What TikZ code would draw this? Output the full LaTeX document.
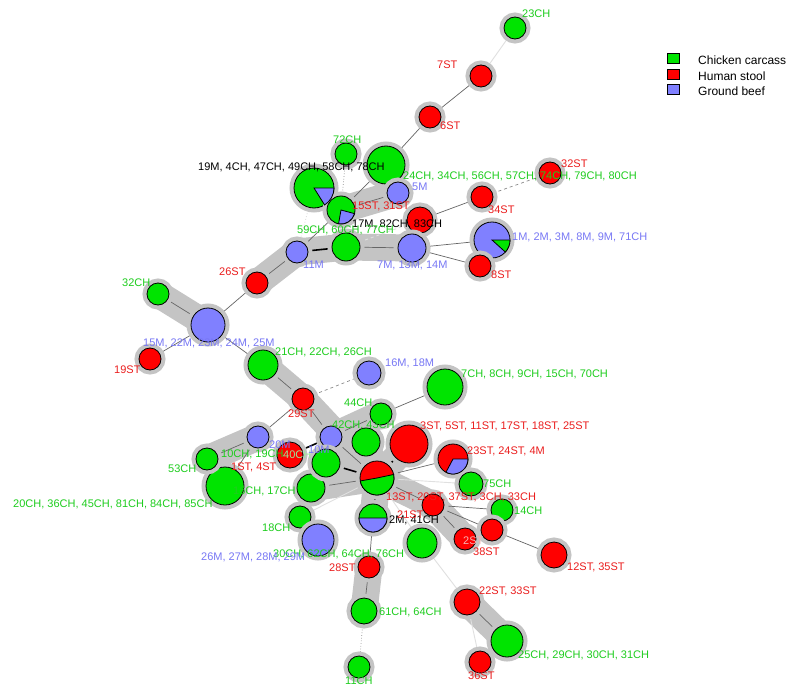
\documentclass[tikz,border=0pt]{standalone}
\usepackage{fontspec}
\setmainfont{Liberation Sans}
\usetikzlibrary{backgrounds}

\definecolor{chgreen}{RGB}{0,228,0}
\definecolor{stred}{RGB}{255,0,0}
\definecolor{beefblue}{RGB}{128,128,255}
\definecolor{halo}{RGB}{196,196,196}
\definecolor{labch}{RGB}{30,205,30}
\definecolor{labst}{RGB}{235,30,30}
\definecolor{labbeef}{RGB}{120,120,245}

\tikzset{
  strain/.style={circle, draw=black, line width=0.8pt, inner sep=0pt,
    minimum size=#1, preaction={draw=halo, line width=9pt}},
  ch/.style={strain=#1, fill=chgreen},
  st/.style={strain=#1, fill=stred},
  beef/.style={strain=#1, fill=beefblue},
  lab/.style={anchor=west, inner sep=0pt, text height=8pt, text depth=0pt,
    font=\fontsize{11}{12}\selectfont},
  band/.style={draw=halo, line width=27pt, line cap=round, line join=round},
  link/.style={draw=black!60, line width=0.7pt},
  near/.style={draw=black, line width=1.6pt},
  faint/.style={draw=black!12, line width=0.9pt},
  loose/.style={draw=black!45, line width=0.7pt, dashed},
}

\newcommand{\piewedge}[5]{%
  \filldraw[fill=#2, draw=black, line width=0.8pt] (#1.center) -- ++(#3:#5pt)
    arc[start angle=#3, end angle=#4, radius=#5pt] -- cycle;}

\begin{document}
\begin{tikzpicture}[x=1pt, y=1pt]
\useasboundingbox (0,0) rectangle (800,-698);

\node[ch=22pt] (n23CH) at (515,-28) {};
\node[st=22pt] (n7ST) at (481,-76) {};
\node[st=22pt] (n6ST) at (430,-117) {};
\node[ch=38pt] (n24CH) at (386,-165) {};
\node[ch=22pt] (n72CH) at (346,-154) {};
\node[ch=40pt] (n19M) at (314,-188) {};
\node[ch=28pt] (n59CH) at (341,-210) {};
\node[beef=22pt] (n5M) at (398,-193) {};
\node[st=26pt] (n15ST) at (420,-220) {};
\node[st=22pt] (n34ST) at (482,-197) {};
\node[st=22pt] (n32ST) at (550,-173) {};
\node[beef=36pt] (n1M) at (492,-240) {};
\node[st=22pt] (n8ST) at (480,-266) {};
\node[beef=28pt] (n7M) at (412,-248) {};
\node[ch=28pt] (n17M) at (346,-247) {};
\node[beef=22pt] (n11M) at (297,-252) {};
\node[st=22pt] (n26ST) at (257,-283) {};
\node[ch=22pt] (n32CH) at (158,-294) {};
\node[beef=34pt] (n15M) at (208,-325) {};
\node[st=22pt] (n19ST) at (150,-359) {};
\node[ch=30pt] (n21CH) at (263,-365) {};
\node[beef=24pt] (n16M) at (369,-373) {};
\node[ch=36pt] (n7CH) at (445,-387) {};
\node[st=22pt] (n29ST) at (303,-399) {};
\node[ch=22pt] (n44CH) at (381,-414) {};
\node[beef=22pt] (n10M) at (331,-437) {};
\node[ch=28pt] (n42CH) at (366,-442) {};
\node[st=38pt] (n3ST) at (409,-444) {};
\node[st=30pt] (n23ST) at (453,-459) {};
\node[st=34pt] (nhub) at (377,-478) {};
\node[ch=24pt] (n75CH) at (471,-484) {};
\node[st=22pt] (n13ST) at (433,-505) {};
\node[ch=22pt] (n14CH) at (502,-510) {};
\node[st=22pt] (n38ST) at (492,-530) {};
\node[st=22pt] (n2ST) at (465,-539) {};
\node[st=26pt] (n12ST) at (554,-555) {};
\node[ch=30pt] (n46CH) at (422,-543) {};
\node[ch=28pt] (n41CH) at (373,-518) {};
\node[ch=22pt] (n18CH) at (300,-517) {};
\node[beef=32pt] (n26M) at (318,-540) {};
\node[ch=28pt] (n16CH) at (311,-488) {};
\node[ch=28pt] (n43CH) at (326,-463) {};
\node[ch=38pt] (n20CH) at (225,-486) {};
\node[beef=22pt] (n20M) at (258,-437) {};
\node[ch=22pt] (n53CH) at (207,-459) {};
\node[st=26pt] (n1ST) at (290,-455) {};
\node[st=22pt] (n28ST) at (369,-567) {};
\node[ch=26pt] (n61CH) at (364,-611) {};
\node[ch=22pt] (n11CH) at (359,-667) {};
\node[st=26pt] (n22ST) at (467,-602) {};
\node[ch=32pt] (n25CH) at (507,-641) {};
\node[st=22pt] (n36ST) at (480,-662) {};

\piewedge{n19M}{beefblue}{-58}{0}{20}
\piewedge{n59CH}{beefblue}{-100}{-15}{14}
\piewedge{n1M}{chgreen}{-42}{0}{18}
\piewedge{n23ST}{beefblue}{-118}{0}{15}
\piewedge{nhub}{chgreen}{190}{372}{17}
\piewedge{n41CH}{beefblue}{180}{360}{14}

\begin{pgfonlayer}{background}
\fill[white] (0,0) rectangle (800,-698);
\draw[band] (n32CH.center) -- (n15M.center);
\draw[band] (n26ST.center) -- (n11M.center) -- (n17M.center) -- (n7M.center);
\draw[band] (n59CH.center) -- (n5M.center);
\draw[band] (n21CH.center) -- (n29ST.center) -- (nhub.center);
\draw[band] (n53CH.center) -- (n20M.center);
\draw[band] (n44CH.center) -- (n10M.center) -- (nhub.center);
\draw[band] (n16CH.center) -- (nhub.center) -- (n43CH.center);
\draw[band] (n42CH.center) -- (nhub.center) -- (n3ST.center);
\draw[band] (nhub.center) -- (n41CH.center);
\draw[band] (nhub.center) -- (n13ST.center) -- (n2ST.center);
\draw[band] (n28ST.center) -- (n61CH.center);
\draw[band] (n22ST.center) -- (n25CH.center);

\draw[faint] (n23CH) -- (n7ST);
\draw[link] (n7ST) -- (n6ST);
\draw[link] (n6ST) -- (n24CH);
\draw[link] (n24CH) -- (n59CH);
\draw[link] (n59CH) -- (n11M);
\draw[link] (n59CH) -- (n5M);
\draw[loose, dotted] (n72CH) -- (n59CH);
\draw[faint, dotted] (n19M) -- (n11M);
\draw[link] (n15ST) -- (n34ST);
\draw[loose] (n34ST) -- (n32ST);
\draw[faint, dashed] (n15ST) -- (n17M);
\draw[near] (n11M) -- (n17M);
\draw[link] (n17M) -- (n7M);
\draw[link] (n7M) -- (n1M);
\draw[link] (n7M) -- (n8ST);
\draw[link] (n11M) -- (n26ST);
\draw[link] (n26ST) -- (n15M);
\draw[link] (n32CH) -- (n15M);
\draw[link] (n15M) -- (n19ST);
\draw[link] (n15M) -- (n21CH);
\draw[link] (n21CH) -- (n29ST);
\draw[loose] (n29ST) -- (n16M);
\draw[link] (n29ST) -- (n20M);
\draw[link] (n29ST) -- (n10M);
\draw[link] (n20M) -- (n53CH);
\draw[link] (n20M) -- (n20CH);
\draw[link] (n10M) -- (n44CH);
\draw[link] (n44CH) -- (n7CH);
\draw[near] (n10M) -- (n1ST);
\draw[link] (n10M) -- (nhub);
\draw[near] (nhub) -- (n43CH);
\draw[near] (nhub) -- (n42CH);
\draw[near] (nhub) -- (n3ST);
\draw[near] (nhub) -- (n41CH);
\draw[link] (nhub) -- (n23ST);
\draw[link] (nhub) -- (n16CH);
\draw[link] (nhub) -- (n13ST);
\draw[faint] (nhub) -- (n75CH);
\draw[faint] (nhub) -- (n18CH);
\draw[faint] (nhub) -- (n46CH);
\draw[link] (n13ST) -- (n14CH);
\draw[link] (n13ST) -- (n2ST);
\draw[link] (n13ST) -- (n38ST);
\draw[link] (n38ST) -- (n12ST);
\draw[link] (n41CH) -- (n28ST);
\draw[link] (n28ST) -- (n61CH);
\draw[loose, dotted] (n61CH) -- (n11CH);
\draw[faint] (n46CH) -- (n22ST);
\draw[link] (n22ST) -- (n25CH);
\draw[faint] (n22ST) -- (n36ST);
\end{pgfonlayer}

\node[lab, labch] (l23CH) at (522,-14) {23CH};
\node[lab, labst] (l7ST) at (437,-65) {7ST};
\node[lab, labst] (l6ST) at (440,-126) {6ST};
\node[lab, labch] (l72CH) at (333,-139) {72CH};
\node[lab, black] (l19M) at (198,-166) {19M, 4CH, 47CH, 49CH, 58CH, 78CH};
\node[lab, labch] (l24CH) at (403,-175) {24CH, 34CH, 56CH, 57CH, 74CH, 79CH, 80CH};
\node[lab, labbeef] (l5M) at (412,-186) {5M};
\node[lab, labst] (l15ST) at (352,-205) {15ST, 31ST};
\node[lab, black] (l17M) at (352,-223) {17M, 82CH, 83CH};
\node[lab, labch] (l59CH) at (297,-229) {59CH, 60CH, 77CH};
\node[lab, labst] (l32ST) at (561,-163) {32ST};
\node[lab, labst] (l34ST) at (488,-209) {34ST};
\node[lab, labbeef] (l1M) at (512,-236) {1M, 2M, 3M, 8M, 9M, 71CH};
\node[lab, labst] (l8ST) at (491,-274) {8ST};
\node[lab, labbeef] (l7M) at (377,-264) {7M, 13M, 14M};
\node[lab, labbeef] (l11M) at (303,-264) {11M};
\node[lab, labst] (l26ST) at (219,-271) {26ST};
\node[lab, labch] (l32CH) at (122,-282) {32CH};
\node[lab, labbeef] (l15M) at (143,-342) {15M, 22M, 23M, 24M, 25M};
\node[lab, labst] (l19ST) at (114,-369) {19ST};
\node[lab, labch] (l21CH) at (275,-351) {21CH, 22CH, 26CH};
\node[lab, labbeef] (l16M) at (385,-362) {16M, 18M};
\node[lab, labch] (l7CH) at (461,-373) {7CH, 8CH, 9CH, 15CH, 70CH};
\node[lab, labst] (l29ST) at (288,-413) {29ST};
\node[lab, labch] (l44CH) at (344,-402) {44CH};
\node[lab, labch] (l42CH) at (332,-424) {42CH, 43CH};
\node[lab, labst] (l3ST) at (420,-425) {3ST, 5ST, 11ST, 17ST, 18ST, 25ST};
\node[lab, labst] (l23ST) at (467,-450) {23ST, 24ST, 4M};
\node[lab, labch] (l75CH) at (483,-483) {75CH};
\node[lab, labst] (l13ST) at (386,-496) {13ST, 20ST, 37ST, 3CH, 33CH};
\node[lab, labch] (l14CH) at (514,-510) {14CH};
\node[lab, white!65!labst] (l2ST) at (463,-540) {2ST};
\node[lab, labst] (l38ST) at (473,-551) {38ST};
\node[lab, labst] (l12ST) at (567,-566) {12ST, 35ST};
\node[lab, labst] (l22ST) at (479,-590) {22ST, 33ST};
\node[lab, labch] (l61CH) at (379,-611) {61CH, 64CH};
\node[lab, labch] (l25CH) at (518,-654) {25CH, 29CH, 30CH, 31CH};
\node[lab, labst] (l36ST) at (468,-675) {36ST};
\node[lab, labch] (l11CH) at (345,-680) {11CH};
\node[lab, labst] (l28ST) at (329,-567) {28ST};
\node[lab, labch] (l30CH) at (273,-553) {30CH, 62CH, 64CH, 76CH};
\node[lab, labbeef] (l26M) at (201,-556) {26M, 27M, 28M, 29M};
\node[lab, labch] (l18CH) at (262,-527) {18CH};
\node[lab, labch] (l16CH) at (233,-490) {16CH, 17CH};
\node[lab, labch] (l20CH) at (13,-503) {20CH, 36CH, 45CH, 81CH, 84CH, 85CH};
\node[lab, labch] (l53CH) at (168,-468) {53CH};
\node[lab, labch] (l10CH) at (221,-453) {10CH, 19CH};
\node[lab, labst] (l1ST) at (231,-466) {1ST, 4ST};
\node[lab, labbeef] (l20M) at (269,-444) {20M};
\node[lab, white!55!labch] (l40CH) at (283,-454) {40CH};
\node[lab, labbeef] (l10M) at (308,-449) {10M};
\node[lab, black] (l2M) at (389,-519) {2M, 41CH};
\node[lab, labst] (l21ST) at (397,-514) {21ST};

\node[draw=black, fill=chgreen, minimum width=12pt, minimum height=10pt, inner sep=0pt] (kch) at (673,-58) {};
\node[draw=black, fill=stred, minimum width=12pt, minimum height=10pt, inner sep=0pt] (kst) at (673,-74) {};
\node[draw=black, fill=beefblue, minimum width=12pt, minimum height=10pt, inner sep=0pt] (kbeef) at (673,-89) {};
\node[lab, font=\fontsize{12}{13}\selectfont] (tch) at (698,-61) {Chicken carcass};
\node[lab, font=\fontsize{12}{13}\selectfont] (tst) at (698,-77) {Human stool};
\node[lab, font=\fontsize{12}{13}\selectfont] (tbeef) at (698,-92) {Ground beef};
\end{tikzpicture}
\end{document}
